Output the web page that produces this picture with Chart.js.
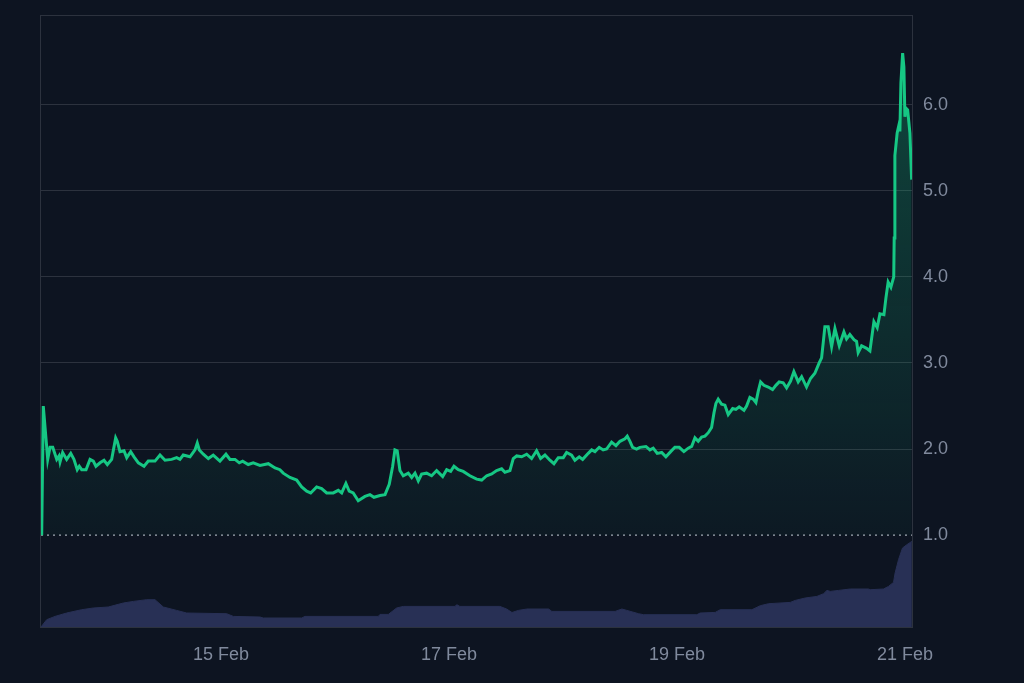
<!DOCTYPE html>
<html>
<head>
<meta charset="utf-8">
<script src="https://cdn.jsdelivr.net/npm/chart.js@4/dist/chart.umd.min.js"></script>
<style>
  html, body { margin: 0; padding: 0; background: #0d1421; }
  #wrap { width: 1024px; height: 683px; }
</style>
</head>
<body>
<div id="wrap"><canvas id="chart"></canvas></div>
<script>
// time in days of February (fractional)
const priceDays = [
  13.426, 13.440, 13.479, 13.499, 13.523, 13.558, 13.578, 13.587, 13.610, 13.645,
  13.681, 13.709, 13.738, 13.756, 13.777, 13.815, 13.850, 13.879, 13.902, 13.938,
  13.973, 14.002, 14.040, 14.075, 14.089, 14.113, 14.148, 14.172, 14.207, 14.236,
  14.274, 14.324, 14.361, 14.420, 14.464, 14.508, 14.566, 14.610, 14.639, 14.668,
  14.727, 14.771, 14.791, 14.809, 14.844, 14.888, 14.931, 14.990, 15.043, 15.078,
  15.122, 15.159, 15.189, 15.238, 15.282, 15.341, 15.414, 15.473, 15.516, 15.545,
  15.604, 15.663, 15.707, 15.751, 15.786, 15.838, 15.882, 15.926, 15.984, 16.028,
  16.058, 16.095, 16.124, 16.159, 16.203, 16.262, 16.306, 16.341, 16.394, 16.438,
  16.475, 16.505, 16.525, 16.545, 16.569, 16.598, 16.642, 16.672, 16.701, 16.730,
  16.759, 16.803, 16.847, 16.891, 16.944, 16.979, 17.014, 17.043, 17.081, 17.124,
  17.183, 17.242, 17.286, 17.330, 17.374, 17.417, 17.461, 17.490, 17.534, 17.563,
  17.593, 17.637, 17.681, 17.724, 17.768, 17.803, 17.841, 17.885, 17.920, 17.958,
  18.002, 18.031, 18.075, 18.104, 18.142, 18.172, 18.221, 18.251, 18.280, 18.317,
  18.352, 18.382, 18.426, 18.464, 18.499, 18.543, 18.563, 18.587, 18.610, 18.645,
  18.674, 18.727, 18.762, 18.791, 18.826, 18.865, 18.902, 18.944, 18.981, 19.019,
  19.060, 19.098, 19.128, 19.157, 19.186, 19.216, 19.245, 19.274, 19.303, 19.324,
  19.341, 19.361, 19.391, 19.420, 19.449, 19.488, 19.516, 19.545, 19.587, 19.610,
  19.639, 19.668, 19.692, 19.712, 19.733, 19.762, 19.800, 19.838, 19.867, 19.896,
  19.931, 19.961, 19.996, 20.025, 20.063, 20.093, 20.136, 20.171, 20.209, 20.247,
  20.268, 20.282, 20.297, 20.326, 20.356, 20.385, 20.423, 20.464, 20.487, 20.516,
  20.552, 20.575, 20.589, 20.619, 20.663, 20.692, 20.727, 20.756, 20.780, 20.815,
  20.832, 20.852, 20.876, 20.901, 20.905, 20.911, 20.931, 20.946, 20.955, 20.964,
  20.979, 20.990, 20.999, 21.008, 21.023, 21.043, 21.058
];
const prices = [
  1.00, 2.50, 1.88, 2.02, 2.02, 1.88, 1.92, 1.85, 1.96, 1.88,
  1.95, 1.88, 1.76, 1.80, 1.76, 1.76, 1.88, 1.86, 1.80, 1.84,
  1.87, 1.82, 1.88, 2.13, 2.09, 1.97, 1.98, 1.90, 1.97, 1.91,
  1.84, 1.80, 1.86, 1.86, 1.93, 1.87, 1.88, 1.90, 1.88, 1.93,
  1.91, 1.99, 2.07, 1.99, 1.94, 1.89, 1.93, 1.86, 1.94, 1.88,
  1.88, 1.84, 1.86, 1.82, 1.84, 1.81, 1.83, 1.78, 1.76, 1.72,
  1.67, 1.64, 1.56, 1.51, 1.49, 1.56, 1.54, 1.49, 1.49, 1.52,
  1.49, 1.60, 1.51, 1.49, 1.40, 1.45, 1.47, 1.44, 1.46, 1.47,
  1.59, 1.80, 1.99, 1.98, 1.75, 1.69, 1.72, 1.67, 1.72, 1.63,
  1.71, 1.72, 1.69, 1.75, 1.68, 1.76, 1.74, 1.80, 1.76, 1.74,
  1.69, 1.65, 1.64, 1.69, 1.71, 1.75, 1.77, 1.73, 1.75, 1.89,
  1.92, 1.91, 1.94, 1.89, 1.98, 1.89, 1.93, 1.87, 1.83, 1.90,
  1.90, 1.96, 1.93, 1.87, 1.91, 1.88, 1.95, 1.99, 1.97, 2.02,
  1.99, 2.00, 2.08, 2.04, 2.09, 2.12, 2.15, 2.09, 2.02, 2.00,
  2.02, 2.03, 1.99, 2.01, 1.95, 1.96, 1.91, 1.97, 2.02, 2.02,
  1.97, 2.01, 2.03, 2.13, 2.09, 2.14, 2.15, 2.19, 2.25, 2.42,
  2.53, 2.58, 2.52, 2.51, 2.40, 2.47, 2.46, 2.49, 2.45, 2.50,
  2.60, 2.58, 2.54, 2.67, 2.78, 2.74, 2.72, 2.69, 2.74, 2.78,
  2.77, 2.71, 2.79, 2.90, 2.78, 2.84, 2.72, 2.82, 2.88, 3.00,
  3.06, 3.23, 3.42, 3.42, 3.19, 3.40, 3.20, 3.36, 3.28, 3.33,
  3.27, 3.25, 3.12, 3.20, 3.17, 3.14, 3.48, 3.41, 3.57, 3.56,
  3.75, 3.94, 3.88, 4.00, 4.45, 5.41, 5.67, 5.76, 5.69, 6.25,
  6.60, 6.44, 5.86, 5.96, 5.94, 5.67, 5.13
];

const volumeDays = [
  13.420, 13.470, 13.543, 13.645, 13.777, 13.879, 14.010, 14.142, 14.230, 14.347,
  14.420, 14.493, 14.610, 14.698, 15.049, 15.107, 15.341, 15.370, 15.707, 15.736,
  16.379, 16.394, 16.467, 16.540, 16.598, 17.052, 17.067, 17.095, 17.446, 17.505,
  17.552, 17.608, 17.683, 17.873, 17.902, 18.457, 18.516, 18.560, 18.662, 18.706,
  19.174, 19.203, 19.335, 19.379, 19.657, 19.730, 19.803, 19.993, 20.037, 20.124,
  20.227, 20.286, 20.315, 20.344, 20.417, 20.519, 20.680, 20.694, 20.811, 20.855,
  20.899, 20.913, 20.943, 20.978, 21.016, 21.060
];
const volumes = [
  0.00, 0.73, 1.06, 1.40, 1.73, 1.90, 2.00, 2.40, 2.56, 2.73,
  2.73, 2.00, 1.66, 1.40, 1.33, 1.06, 1.00, 0.90, 0.90, 1.06,
  1.06, 1.26, 1.26, 1.90, 2.06, 2.06, 2.23, 2.06, 2.06, 1.80,
  1.45, 1.66, 1.80, 1.80, 1.56, 1.56, 1.80, 1.66, 1.33, 1.23,
  1.23, 1.40, 1.46, 1.73, 1.73, 2.13, 2.33, 2.46, 2.66, 2.90,
  3.06, 3.33, 3.66, 3.56, 3.66, 3.80, 3.80, 3.73, 3.80, 4.06,
  4.46, 5.40, 6.73, 7.90, 8.23, 8.56
];

const baselinePrice = 1.0;
const yTicks = [1, 2, 3, 4, 5, 6];
const xTicks = [15, 17, 19, 21];
const xMin = 13.42, xMax = 21.07;

const gridColor = '#2c323e';
const labelColor = '#808a9d';

const frame = {
  id: 'frame',
  afterDatasetsDraw(chart) {
    const a = chart.chartArea;
    const c = chart.ctx;
    c.save();
    c.strokeStyle = gridColor;
    c.lineWidth = 1;
    c.strokeRect(Math.round(a.left) - 0.5, Math.round(a.top) - 0.5,
      Math.round(a.right - a.left), Math.round(a.bottom - a.top) + 1);
    c.restore();
  }
};

const ctx = document.getElementById('chart').getContext('2d');
new Chart(ctx, {
  type: 'line',
  data: {
    datasets: [
      {
        label: 'Price',
        data: priceDays.map((d, i) => ({ x: d, y: prices[i] })),
        yAxisID: 'y',
        borderColor: '#16c784',
        borderWidth: 3,
        pointRadius: 0,
        tension: 0,
        fill: { value: baselinePrice },
        backgroundColor: (c) => {
          const area = c.chart.chartArea;
          if (!area) return 'rgba(22,199,132,0.1)';
          const yb = c.chart.scales.y.getPixelForValue(baselinePrice);
          const g = c.chart.ctx.createLinearGradient(0, area.top, 0, yb);
          g.addColorStop(0, 'rgba(22,199,132,0.3)');
          g.addColorStop(1, 'rgba(22,199,132,0.03)');
          return g;
        }
      },
      {
        label: 'Open',
        data: [{ x: xMin, y: baselinePrice }, { x: xMax, y: baselinePrice }],
        yAxisID: 'y',
        borderColor: 'rgba(200,205,215,0.8)',
        borderWidth: 1.2,
        borderDash: [2, 4],
        pointRadius: 0,
        fill: false
      },
      {
        label: 'Volume',
        data: volumeDays.map((d, i) => ({ x: d, y: volumes[i] })),
        yAxisID: 'yv',
        borderColor: '#283055',
        borderWidth: 1,
        backgroundColor: '#283055',
        pointRadius: 0,
        tension: 0,
        fill: 'origin'
      }
    ]
  },
  options: {
    responsive: true,
    maintainAspectRatio: false,
    animation: false,
    layout: { padding: { left: 41, top: 16, right: 0, bottom: 0 } },
    plugins: { legend: { display: false }, tooltip: { enabled: false } },
    scales: {
      x: {
        type: 'linear',
        min: xMin,
        max: xMax,
        afterBuildTicks: (s) => { s.ticks = xTicks.map(v => ({ value: v })); },
        afterFit: (s) => { s.height = 56; s.paddingLeft = 0; s.paddingRight = 0; },
        grid: { display: false, drawTicks: false },
        border: { display: false },
        ticks: {
          autoSkip: false,
          maxRotation: 0,
          padding: 17,
          color: labelColor,
          font: { family: '"Liberation Sans", Arial, sans-serif', size: 18 },
          callback: (v) => v + ' Feb'
        }
      },
      y: {
        position: 'right',
        min: -0.067,
        max: 7.03,
        afterBuildTicks: (s) => { s.ticks = yTicks.map(v => ({ value: v })); },
        afterFit: (s) => { s.width = 111; s.paddingTop = 0; s.paddingBottom = 0; },
        grid: {
          drawTicks: false,
          color: (c) => (c.tick && c.tick.value === baselinePrice) ? 'rgba(0,0,0,0)' : gridColor
        },
        border: { display: false },
        ticks: {
          padding: 10,
          color: labelColor,
          font: { family: '"Liberation Sans", Arial, sans-serif', size: 18 },
          callback: (v) => Number(v).toFixed(1)
        }
      },
      yv: {
        display: false,
        min: 0,
        max: 61.1
      }
    }
  },
  plugins: [frame]
});
</script>
</body>
</html>
